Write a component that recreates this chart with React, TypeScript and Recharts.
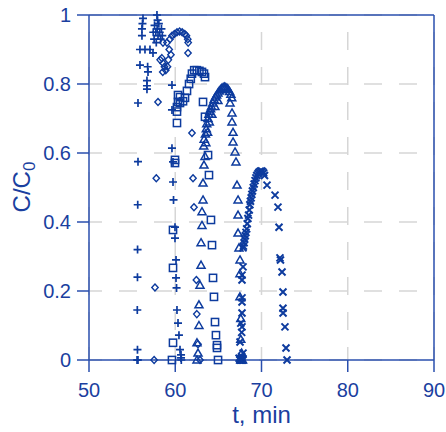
import React from 'react';
import { ScatterChart, Scatter, XAxis, YAxis, CartesianGrid, ReferenceLine, Label } from 'recharts';

// breakthrough curves, time (min) vs C/C0
const plusSeries: [number, number][] = [
  [55.57, 0], [55.68, 0], [55.62, 0.03], [55.6, 0.145], [55.62, 0.24], [55.63, 0.32], [55.65, 0.45],
  [55.68, 0.575], [55.68, 0.745], [55.91, 0.855], [55.91, 0.9], [56.49, 0.9], [56.14, 0.94],
  [56.14, 0.96], [56.2, 0.975], [56.26, 0.99], [56.72, 0.785], [56.72, 0.795], [56.72, 0.81],
  [56.84, 0.835], [56.8, 0.85], [57.07, 0.9], [57.42, 0.89], [57.45, 0.95], [57.55, 0.93],
  [57.6, 0.97], [57.75, 0.95], [57.8, 0.92], [57.9, 0.96], [58.0, 0.94], [58.1, 0.975],
  [58.2, 0.95], [58.3, 0.93], [58.4, 0.96], [58.5, 0.94], [57.88, 1.0], [57.95, 0.985],
  [59.62, 0.797], [59.62, 0.725], [59.62, 0.614], [59.74, 0.574], [59.74, 0.516], [59.8, 0.464],
  [59.97, 0.385], [59.97, 0.353], [60.09, 0.29], [60.09, 0.238], [60.15, 0.209], [60.2, 0.145],
  [60.32, 0.107], [60.43, 0.072], [60.55, 0.03], [60.67, 0.015], [60.67, 0.006], [60.7, 0],
];

const diamondSeries: [number, number][] = [
  [57.55, 0], [57.65, 0.21], [57.8, 0.527], [58.0, 0.748], [58.25, 0.87], [58.45, 0.875],
  [58.6, 0.86], [58.75, 0.85], [58.55, 0.835], [58.9, 0.84], [59.1, 0.85], [59.2, 0.87],
  [59.3, 0.9], [59.5, 0.885], [58.58, 0.92], [59.04, 0.92], [59.39, 0.93], [59.62, 0.94],
  [59.9, 0.945], [60.2, 0.95], [60.5, 0.952], [60.8, 0.95], [61.1, 0.945], [61.3, 0.94],
  [61.45, 0.93], [61.5, 0.92], [61.48, 0.89], [61.94, 0.658], [62.06, 0.527], [62.17, 0.443],
  [62.45, 0.232], [62.5, 0.133], [62.64, 0.046], [62.87, 0],
];

const squareSeries: [number, number][] = [
  [59.62, 0], [59.74, 0.05], [59.74, 0.267], [59.74, 0.377], [59.97, 0.571], [59.97, 0.58],
  [60.2, 0.687], [60.2, 0.72], [60.2, 0.733], [60.55, 0.745], [60.32, 0.748], [60.55, 0.762],
  [60.32, 0.768], [60.9, 0.75], [61.13, 0.76], [61.36, 0.78], [61.6, 0.8], [61.8, 0.815],
  [61.94, 0.83], [62.2, 0.84], [62.5, 0.84], [62.8, 0.838], [63.1, 0.835], [63.33, 0.83],
  [63.45, 0.82], [63.22, 0.748], [63.45, 0.705], [63.8, 0.594], [63.91, 0.536], [64.14, 0.406],
  [64.26, 0.333], [64.38, 0.238], [64.49, 0.183], [64.61, 0.11], [64.72, 0.072], [64.84, 0.043],
  [64.84, 0.035], [64.96, 0],
];

const triangleSeries: [number, number][] = [
  [62.52, 0], [62.64, 0.02], [62.52, 0.05], [62.75, 0.1], [62.75, 0.16], [62.87, 0.217],
  [62.99, 0.275], [62.99, 0.34], [63.1, 0.39], [63.1, 0.43], [63.22, 0.464], [63.22, 0.513],
  [63.33, 0.565], [63.45, 0.59], [63.3, 0.62], [63.35, 0.64], [63.5, 0.655], [63.6, 0.67],
  [63.65, 0.685], [63.8, 0.7], [63.9, 0.712], [64.0, 0.72], [64.1, 0.728], [64.2, 0.735],
  [64.35, 0.745], [64.5, 0.755], [64.65, 0.762], [64.8, 0.768], [64.95, 0.774], [65.1, 0.78],
  [65.25, 0.784], [65.4, 0.788], [65.55, 0.79], [65.7, 0.791], [65.85, 0.79], [66.0, 0.788],
  [66.15, 0.784], [66.3, 0.778], [66.45, 0.77], [66.55, 0.76], [63.55, 0.63], [63.75, 0.66],
  [63.95, 0.69], [64.25, 0.712], [64.6, 0.735], [64.95, 0.752],
  [66.35, 0.745], [66.58, 0.716], [66.58, 0.69], [66.7, 0.66], [66.7, 0.632], [66.93, 0.603],
  [67.04, 0.574], [67.16, 0.507], [67.28, 0.464], [67.28, 0.42], [67.28, 0.368], [67.39, 0.325],
  [67.51, 0.29], [67.5, 0.25], [67.5, 0.183], [67.6, 0.12], [67.6, 0.06], [67.7, 0.02],
  [67.6, 0], [67.8, 0],
];

const crossSeries: [number, number][] = [
  [67.5, 0], [67.6, 0], [67.74, 0], [67.86, 0], [67.4, 0.005], [67.7, 0.01], [67.86, 0.02],
  [67.51, 0.052], [67.7, 0.08], [67.74, 0.096], [67.6, 0.107], [67.74, 0.136], [67.74, 0.168],
  [67.74, 0.18], [67.74, 0.232], [67.74, 0.246], [67.86, 0.27], [67.86, 0.325], [67.9, 0.33],
  [67.98, 0.34], [68.05, 0.35], [68.12, 0.36], [68.2, 0.37], [68.28, 0.38], [68.35, 0.395],
  [68.42, 0.41], [68.5, 0.42], [68.58, 0.435], [68.65, 0.45], [68.72, 0.46], [68.8, 0.47],
  [68.88, 0.48], [68.95, 0.49], [69.05, 0.5], [69.15, 0.51], [69.25, 0.52], [69.35, 0.528],
  [69.45, 0.535], [69.58, 0.54], [69.7, 0.544], [69.85, 0.547], [70.0, 0.548], [70.12, 0.546],
  [70.25, 0.542], [70.35, 0.535], [70.64, 0.507], [71.57, 0.478], [71.91, 0.443], [72.03, 0.385],
  [72.14, 0.296], [72.2, 0.29], [72.38, 0.255], [72.49, 0.197], [72.49, 0.15], [72.5, 0.136],
  [72.72, 0.096], [72.84, 0.035], [72.96, 0],
];

const xTicks = [50, 60, 70, 80, 90];
const yTicks = [0, 0.2, 0.4, 0.6, 0.8, 1];

const INK = '#0d3b9e';
const AXIS = '#2a4fae';
const TEXT = '#1b3f9f';
const FONT = "Arial, 'Liberation Sans', sans-serif";

const toPoints = (s: [number, number][]) => s.map(([t, c]) => ({ t, c }));

type Kind = 'plus' | 'diamond' | 'square' | 'triangle' | 'cross';

function marker(kind: Kind) {
  return (props: any) => {
    const { cx, cy } = props;
    if (cx == null || cy == null) return <g />;
    switch (kind) {
      case 'plus':
        return <path d={`M${cx - 4},${cy}H${cx + 4}M${cx},${cy - 4}V${cy + 4}`} stroke={INK} strokeWidth={1.7} fill="none" />;
      case 'diamond':
        return <path d={`M${cx},${cy - 3.5}L${cx + 3.2},${cy}L${cx},${cy + 3.5}L${cx - 3.2},${cy}Z`} stroke={INK} strokeWidth={1.4} fill="none" />;
      case 'square':
        return <rect x={cx - 3.6} y={cy - 3.6} width={7.2} height={7.2} stroke={INK} strokeWidth={1.5} fill="none" />;
      case 'triangle':
        return <path d={`M${cx},${cy - 4}L${cx + 4},${cy + 3}L${cx - 4},${cy + 3}Z`} stroke={INK} strokeWidth={1.5} fill="none" />;
      default:
        return <path d={`M${cx - 3.5},${cy - 3.5}L${cx + 3.5},${cy + 3.5}M${cx + 3.5},${cy - 3.5}L${cx - 3.5},${cy + 3.5}`} stroke={INK} strokeWidth={2} fill="none" />;
    }
  };
}

const YTitle = () => (
  <text transform="translate(30,187) rotate(-90)" textAnchor="middle" fill={TEXT} fontFamily={FONT} fontSize={24}>
    C/C<tspan dy={5} fontSize={17}>0</tspan>
  </text>
);

export default function App() {
  const tickStyle = { fill: TEXT, fontSize: 20, fontFamily: FONT };
  return (
    <div style={{ position: 'absolute', left: 0, top: 0, width: 446, height: 432, background: '#fff' }}>
      <ScatterChart width={446} height={432} margin={{ top: 15, right: 12, bottom: 0, left: 0 }}>
        <CartesianGrid vertical={false} stroke="#d6d6d6" strokeWidth={1.5} strokeDasharray="18 17" strokeDashoffset={5} />
        <CartesianGrid horizontal={false} stroke="#d6d6d6" strokeWidth={1.5} strokeDasharray="18 17" strokeDashoffset={18} />
        <XAxis
          type="number"
          dataKey="t"
          domain={[50, 90]}
          ticks={xTicks}
          height={72}
          tick={tickStyle}
          tickSize={12}
          tickMargin={11}
          axisLine={{ stroke: AXIS, strokeWidth: 1.5 }}
          tickLine={{ stroke: AXIS, strokeWidth: 1.5 }}
        >
          <Label value="t, min" position="insideBottom" offset={9} fill={TEXT} fontSize={24} fontFamily={FONT} />
        </XAxis>
        <YAxis
          type="number"
          dataKey="c"
          domain={[0, 1]}
          ticks={yTicks}
          width={89}
          tick={tickStyle}
          tickSize={12}
          tickMargin={6}
          axisLine={{ stroke: AXIS, strokeWidth: 1.5 }}
          tickLine={{ stroke: AXIS, strokeWidth: 1.5 }}
        >
          <Label content={<YTitle />} />
        </YAxis>
        <ReferenceLine y={1} stroke={AXIS} strokeWidth={1.5} />
        <ReferenceLine x={90} stroke={AXIS} strokeWidth={1.5} />
        <Scatter data={toPoints(plusSeries)} shape={marker('plus')} isAnimationActive={false} />
        <Scatter data={toPoints(diamondSeries)} shape={marker('diamond')} isAnimationActive={false} />
        <Scatter data={toPoints(squareSeries)} shape={marker('square')} isAnimationActive={false} />
        <Scatter data={toPoints(triangleSeries)} shape={marker('triangle')} isAnimationActive={false} />
        <Scatter data={toPoints(crossSeries)} shape={marker('cross')} isAnimationActive={false} />
      </ScatterChart>
    </div>
  );
}
